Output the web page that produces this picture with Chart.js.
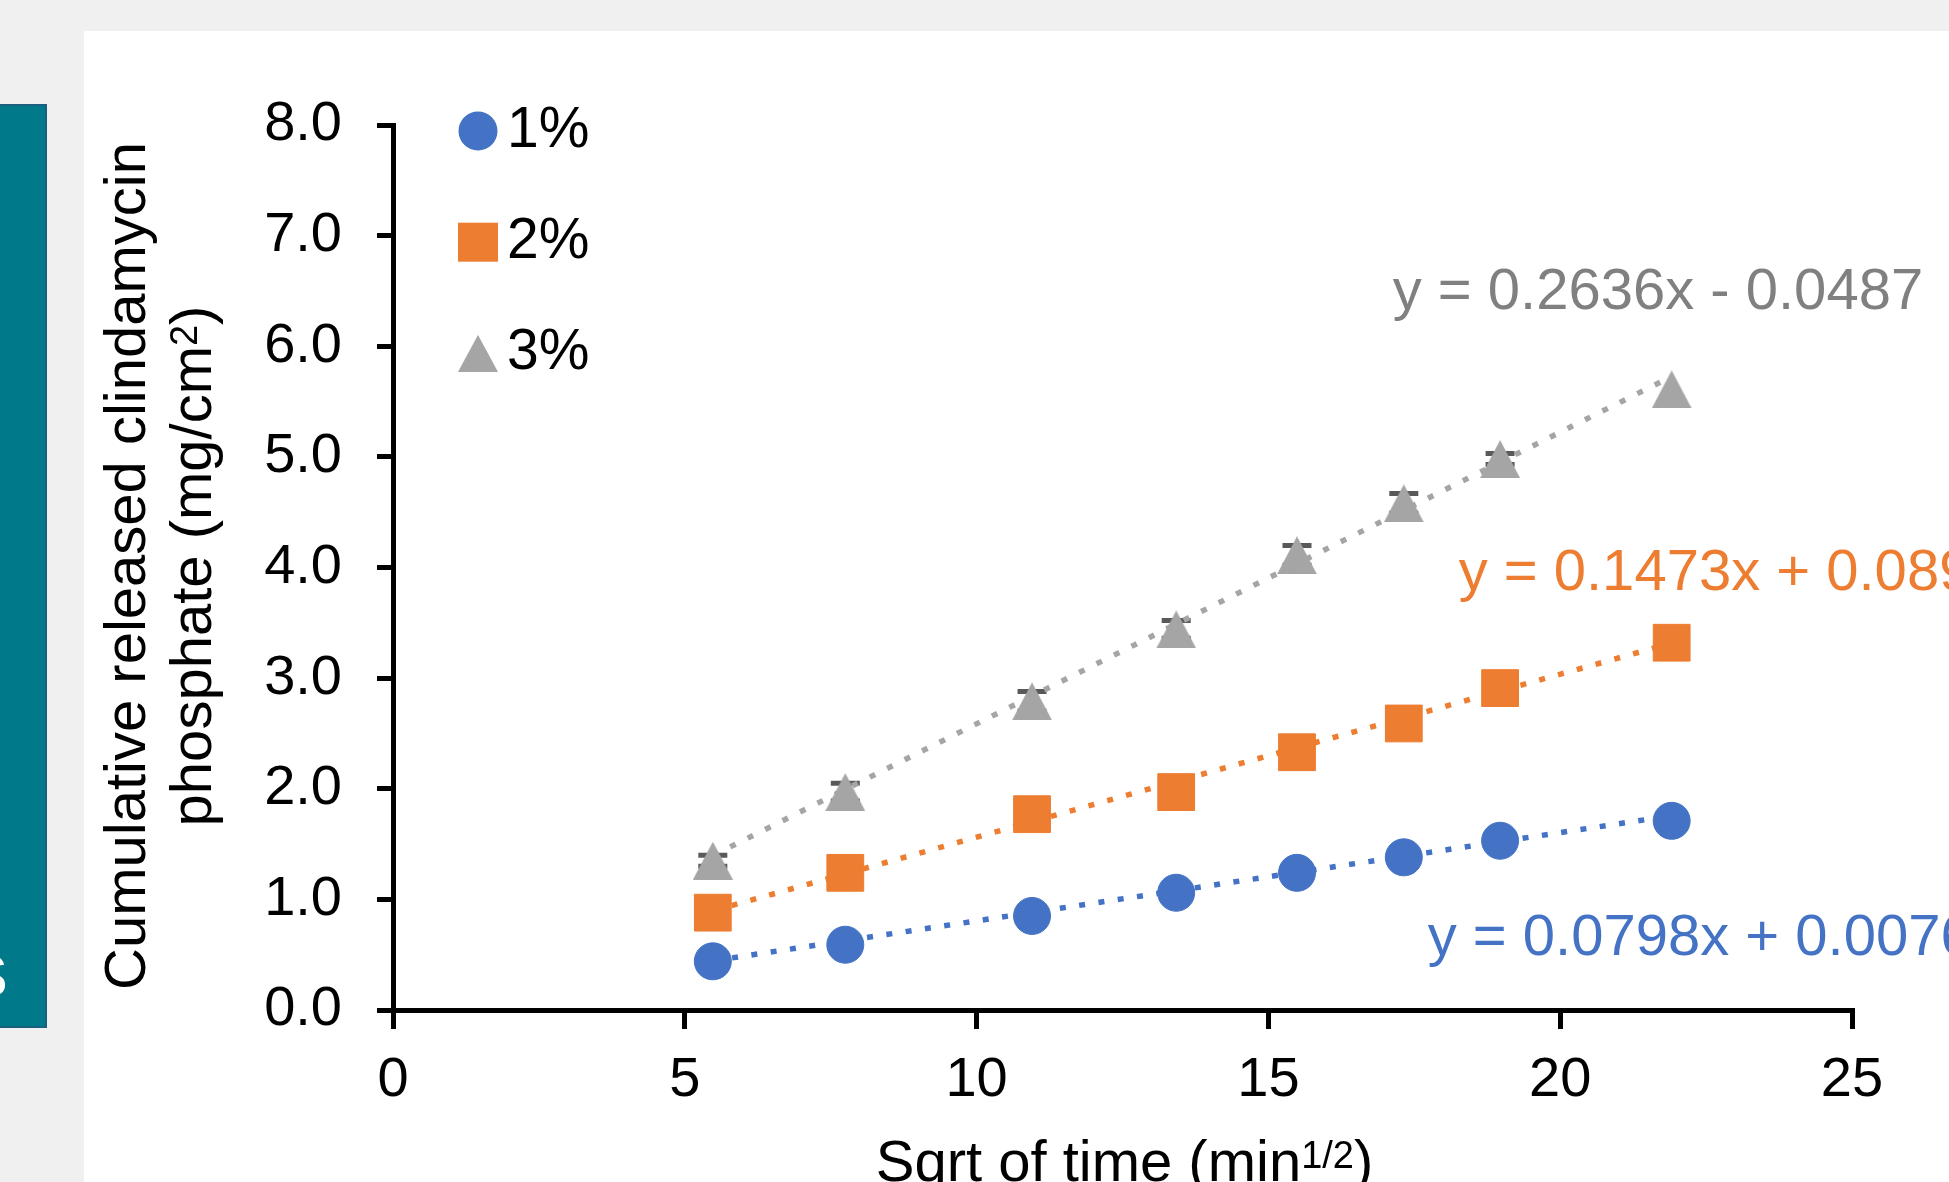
<!DOCTYPE html>
<html>
<head>
<meta charset="utf-8">
<script src="https://cdn.jsdelivr.net/npm/chart.js@4.4.1/dist/chart.umd.min.js"></script>
<style>
html,body{margin:0;padding:0;width:1949px;height:1182px;overflow:hidden;background:#f0f0f0;font-family:"Liberation Sans",Arial,sans-serif;}
#panel{position:absolute;left:84px;top:31px;right:0;bottom:0;background:#ffffff;}
#side{position:absolute;left:0;top:104px;width:45px;height:920px;background:#007a8a;border-top:2px solid #1b5e7e;border-right:2px solid #1b5e7e;border-bottom:2px solid #1b5e7e;overflow:hidden;}
#side span{position:absolute;left:-31px;top:841px;color:#ffffff;font-size:58px;line-height:58px;white-space:nowrap;}
#c{position:absolute;left:0;top:0;}
</style>
</head>
<body>
<div id="panel"></div>
<div id="side"><span>S</span></div>
<canvas id="c" width="1949" height="1182"></canvas>
<script>
// ---------------- data ----------------
const sqrtTime = [5.48, 7.75, 10.95, 13.42, 15.49, 17.32, 18.97, 21.91];
const series1 = [0.44, 0.59, 0.85, 1.06, 1.24, 1.38, 1.53, 1.71];
const series2 = [0.88, 1.24, 1.77, 1.97, 2.33, 2.59, 2.91, 3.32];
const series3 = [1.35, 1.97, 2.79, 3.44, 4.11, 4.58, 4.98, 5.61];
const series3Err = [0.05, 0.08, 0.09, 0.08, 0.09, 0.09, 0.05, 0];
const seriesNames = ['1%', '2%', '3%'];
const trendSlopes = [0.0798, 0.1473, 0.2636];
const trendIntercepts = [0.0076, 0.0893, -0.0487];
const trendLabels = ['y = 0.0798x + 0.0076', 'y = 0.1473x + 0.0893', 'y = 0.2636x - 0.0487'];
const xTickValues = [0, 5, 10, 15, 20, 25];
const yTickValues = [0, 1, 2, 3, 4, 5, 6, 7, 8];
const yTickLabels = ['0.0', '1.0', '2.0', '3.0', '4.0', '5.0', '6.0', '7.0', '8.0'];
const xTitleMain = 'Sqrt of time (min';
const xTitleSup = '1/2';
const xTitleEnd = ')';
const yTitleLine1 = 'Cumulative released clindamycin';
const yTitleLine2Main = 'phosphate (mg/cm';
const yTitleLine2Sup = '2';
const yTitleLine2End = ')';

// ---------------- styles ----------------
const FONT = '"Liberation Sans", Arial, sans-serif';
const colors = ['#4472c4', '#ed7d31', '#a5a5a5'];
const labelColors = ['#4472c4', '#ed7d31', '#808080'];
// equation label anchors (data units, left/baseline)
const eqAnchorX = [17.73, 18.26, 17.13];
const eqAnchorY = [0.50, 3.80, 6.34];

function makeTriangle(color, w, h) {
  const c = document.createElement('canvas');
  c.width = w; c.height = h;
  const g = c.getContext('2d');
  g.fillStyle = color;
  g.beginPath();
  g.moveTo(w / 2, 0);
  g.lineTo(w, h);
  g.lineTo(0, h);
  g.closePath();
  g.fill();
  return c;
}
const triMarker = makeTriangle(colors[2], 40, 38);
const triLegend = makeTriangle(colors[2], 40, 37);

const seriesValues = [series1, series2, series3];
const markerDatasets = seriesValues.map((vals, i) => ({
  label: seriesNames[i],
  data: sqrtTime.map((t, k) => ({ x: t, y: vals[k] })),
  showLine: false,
  pointStyle: i === 0 ? 'circle' : (i === 1 ? 'rect' : triMarker),
  pointRadius: i === 0 ? 18.5 : (i === 1 ? 26 : 18),
  pointBackgroundColor: colors[i],
  pointBorderColor: colors[i],
  pointBorderWidth: 1,
  order: 1
}));
const trendDatasets = seriesValues.map((vals, i) => {
  const x0 = sqrtTime[0], x1 = sqrtTime[sqrtTime.length - 1];
  return {
    label: 'trend ' + seriesNames[i],
    data: [
      { x: x0, y: trendSlopes[i] * x0 + trendIntercepts[i] },
      { x: x1, y: trendSlopes[i] * x1 + trendIntercepts[i] }
    ],
    showLine: true,
    borderColor: colors[i],
    borderWidth: 5.5,
    borderDash: [6, 13.5],
    borderCapStyle: 'butt',
    pointRadius: 0,
    fill: false,
    order: 0
  };
});

const decor = {
  id: 'decor',
  beforeDatasetsDraw(chart) {
    const ctx = chart.ctx, xs = chart.scales.x, ys = chart.scales.y;
    ctx.save();
    ctx.strokeStyle = '#595959';
    ctx.lineWidth = 5;
    sqrtTime.forEach((t, i) => {
      if (!series3Err[i]) return;
      const px = xs.getPixelForValue(t);
      const hi = ys.getPixelForValue(series3[i] + series3Err[i]);
      const lo = ys.getPixelForValue(series3[i] - series3Err[i]);
      ctx.beginPath();
      ctx.moveTo(px, lo); ctx.lineTo(px, hi);
      ctx.moveTo(px - 14.5, hi); ctx.lineTo(px + 14.5, hi);
      ctx.moveTo(px - 14.5, lo); ctx.lineTo(px + 14.5, lo);
      ctx.stroke();
    });
    ctx.restore();
  },
  afterDraw(chart) {
    const ctx = chart.ctx, xs = chart.scales.x, ys = chart.scales.y, a = chart.chartArea;
    ctx.save();
    // legend
    const lx = a.left + 85;
    seriesNames.forEach((name, i) => {
      const ly = a.top + 6 + i * 111.2;
      ctx.fillStyle = colors[i];
      if (i === 0) {
        ctx.beginPath(); ctx.arc(lx, ly, 19.5, 0, Math.PI * 2); ctx.fill();
      } else if (i === 1) {
        ctx.fillRect(lx - 20, ly - 19.5, 40, 39);
      } else {
        ctx.drawImage(triLegend, lx - 20, ly - 18.5);
      }
      ctx.fillStyle = '#000';
      ctx.font = '57px ' + FONT;
      ctx.textAlign = 'left';
      ctx.textBaseline = 'middle';
      ctx.fillText(name, lx + 29, ly);
    });
    // trendline equations
    ctx.font = '58px ' + FONT;
    ctx.textAlign = 'left';
    ctx.textBaseline = 'alphabetic';
    trendLabels.forEach((txt, i) => {
      ctx.fillStyle = labelColors[i];
      ctx.fillText(txt, xs.getPixelForValue(eqAnchorX[i]), ys.getPixelForValue(eqAnchorY[i]));
    });
    // x axis title
    ctx.fillStyle = '#000';
    const big = '58px ' + FONT, small = '38px ' + FONT;
    ctx.font = big; const w1 = ctx.measureText(xTitleMain).width; const w3 = ctx.measureText(xTitleEnd).width;
    ctx.font = small; const w2 = ctx.measureText(xTitleSup).width;
    let x = (a.left + a.right) / 2 + 2 - (w1 + w2 + w3) / 2;
    const by = 1181;
    ctx.font = big; ctx.fillText(xTitleMain, x, by); x += w1;
    ctx.font = small; ctx.fillText(xTitleSup, x, by - 13); x += w2;
    ctx.font = big; ctx.fillText(xTitleEnd, x, by);
    // y axis title (rotated, two lines)
    const cy = (a.top + a.bottom) / 2 - 1.5;
    ctx.save();
    ctx.translate(a.left - 248, cy);
    ctx.rotate(-Math.PI / 2);
    ctx.font = big; ctx.textAlign = 'center';
    ctx.fillText(yTitleLine1, 0, 0);
    ctx.restore();
    ctx.save();
    ctx.translate(a.left - 182, cy);
    ctx.rotate(-Math.PI / 2);
    ctx.textAlign = 'left';
    ctx.font = big; const v1 = ctx.measureText(yTitleLine2Main).width; const v3 = ctx.measureText(yTitleLine2End).width;
    ctx.font = small; const v2 = ctx.measureText(yTitleLine2Sup).width;
    let t = -(v1 + v2 + v3) / 2;
    ctx.font = big; ctx.fillText(yTitleLine2Main, t, 0); t += v1;
    ctx.font = small; ctx.fillText(yTitleLine2Sup, t, -14); t += v2;
    ctx.font = big; ctx.fillText(yTitleLine2End, t, 0);
    ctx.restore();
    ctx.restore();
  }
};

new Chart(document.getElementById('c'), {
  type: 'scatter',
  data: { datasets: markerDatasets.concat(trendDatasets) },
  options: {
    responsive: false,
    animation: false,
    devicePixelRatio: 1,
    layout: { padding: { left: 0, top: 125, right: 97, bottom: 0 } },
    plugins: { legend: { display: false }, tooltip: { enabled: false } },
    scales: {
      x: {
        type: 'linear', position: 'bottom', min: 0, max: 25,
        afterBuildTicks: s => { s.ticks = xTickValues.map(v => ({ value: v })); },
        ticks: { color: '#000', font: { family: FONT, size: 56 }, padding: 18, maxRotation: 0, autoSkip: false,
                 callback: v => String(v) },
        grid: { display: true, drawOnChartArea: false, drawTicks: true, tickLength: 19, tickWidth: 5, tickColor: '#000', color: '#000', lineWidth: 5 },
        border: { display: true, color: '#000', width: 5 },
        afterFit: s => { s.height = 172; }
      },
      y: {
        type: 'linear', position: 'left', min: 0, max: 8,
        afterBuildTicks: s => { s.ticks = yTickValues.map(v => ({ value: v })); },
        ticks: { color: '#000', font: { family: FONT, size: 56 }, padding: 35, autoSkip: false,
                 callback: v => yTickLabels[yTickValues.indexOf(v)] },
        grid: { display: true, drawOnChartArea: false, drawTicks: true, tickLength: 16, tickWidth: 5, tickColor: '#000', color: '#000', lineWidth: 5 },
        border: { display: true, color: '#000', width: 5 },
        afterFit: s => { s.width = 393; }
      }
    }
  },
  plugins: [decor]
});
</script>
</body>
</html>
